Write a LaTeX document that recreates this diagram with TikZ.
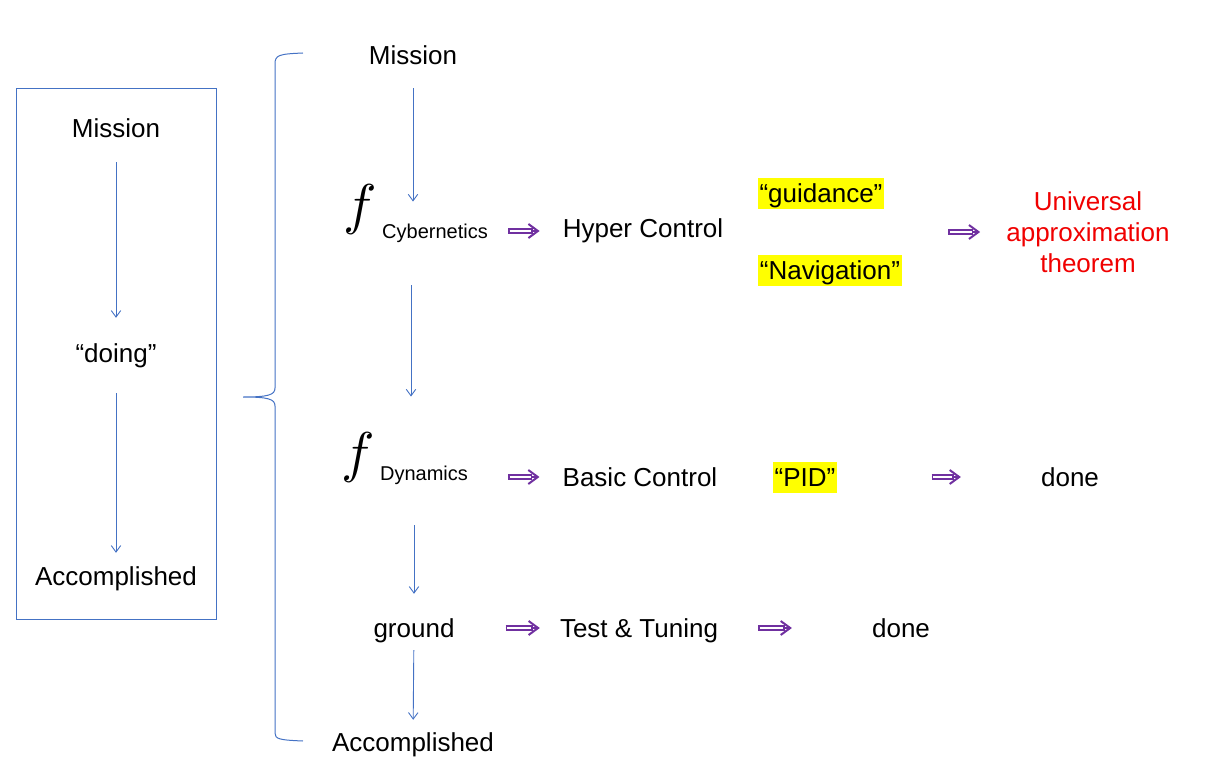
\documentclass[tikz,border=0pt]{standalone}
\usepackage{fontspec}
\setmainfont{Liberation Sans}
\usetikzlibrary{arrows.meta}
\definecolor{bl}{HTML}{4472C4}
\definecolor{pur}{HTML}{7030A0}
\definecolor{hl}{HTML}{FFFF00}
\definecolor{rd}{HTML}{F00000}
\begin{document}
\begin{tikzpicture}[x=1pt,y=-1pt,
  txt/.style={font=\fontsize{26}{31}\selectfont, inner sep=0pt, text height=21.3pt, text depth=2.7pt},
  sub/.style={font=\fontsize{20}{24}\selectfont, inner sep=0pt, text height=16.5pt, text depth=2pt},
  fsym/.style={font=\normalsize, inner sep=0pt, scale=5.6},
  hlbox/.style={txt, fill=hl, inner xsep=2pt, inner ysep=3.5pt},
  barrow/.style={draw=bl, line width=0.9pt, -{Straight Barb[length=6.5pt,width=9.5pt]}},
  parrow/.style 2 args={draw=pur, line width=1.2pt,
     -{Straight Barb[length=9.5pt,width=14pt,line width=2pt]},
     shorten <=#1, shorten >=#2,
     postaction={draw=pur, -, line width=5.8pt, shorten <=#1, shorten >=#2+7pt},
     postaction={draw=white, -, line width=2.6pt, shorten <=#1+1.6pt, shorten >=#2+8.6pt}},
  bracestyle/.style={draw=bl, line width=1pt}]
\useasboundingbox (0,0) rectangle (1210,765);

% left column
\node[draw=bl, line width=0.8pt, minimum width=200pt, minimum height=531pt, inner sep=0pt] (box) at (116,353.5) {};
\node[txt] (lm) at (116,128) {Mission};
\node[txt] (ld) at (116,353) {“doing”};
\node[txt] (la) at (116,576) {Accomplished};
\draw[barrow, shorten <=22pt, shorten >=23pt] (lm) -- (ld);
\draw[barrow, shorten <=28pt, shorten >=11pt] (ld) -- (la);

% brace
\draw[bracestyle] (303,53) .. controls (279,54) and (275,55) .. (275,64) -- (275,388)
  .. controls (275,395) and (268,397) .. (243,397)
  (243,397) .. controls (268,397) and (275,399) .. (275,406) -- (275,733)
  .. controls (275,739) and (279,740) .. (303,741);

% right column
\node[txt] (tm) at (413,55) {Mission};
\node[fsym] (f1) at (360,209) {$f$};
\node[sub] (cyb) at (435,231) {Cybernetics};
\node[txt] (hc) at (643,228) {Hyper Control};
\node[hlbox] (guid) at (821,193) {“guidance”};
\node[hlbox] (nav) at (830,270) {“Navigation”};
\node[txt, text=rd, align=center, text height=, text depth=] (univ) at (1088,232) {Universal\\approximation\\theorem};

\node[fsym] (f2) at (358,457) {$f$};
\node[sub] (dyn) at (424,473) {Dynamics};
\node[txt] (bc) at (640,477) {Basic Control};
\node[hlbox] (pid) at (805,477) {“PID”};
\node[txt] (done1) at (1070,477) {done};

\node[txt] (gr) at (414,628) {ground};
\node[txt] (tt) at (639,628) {Test \& Tuning};
\node[txt] (done2) at (901,628) {done};
\node[txt] (ta) at (413,742) {Accomplished};

% vertical arrows
\draw[barrow, shorten <=21pt, shorten >=20pt] (tm.south) -- (tm.south |- cyb.north);
\draw[barrow, shorten <=45pt, shorten >=67pt] (cyb.south -| 411,0) -- (dyn.north -| 411,0);
\draw[barrow, shorten <=43pt, shorten >=22pt] (dyn.south -| gr.north) -- (gr.north);
\draw[barrow, shorten <=10pt, shorten >=10pt] (gr) -- (ta);

% horizontal arrows
\draw[parrow={20pt}{23pt}] (cyb.east) -- (hc.west |- cyb.east);
\draw[parrow={225pt}{26pt}] (hc.east |- univ.west) -- (univ.west);
\draw[parrow={40pt}{23pt}] (dyn.east |- bc.west) -- (bc.west);
\draw[parrow={94pt}{80pt}] (pid.east) -- (done1.west);
\draw[parrow={51pt}{20pt}] (gr.east) -- (tt.west);
\draw[parrow={40pt}{80pt}] (tt.east) -- (done2.west);
\end{tikzpicture}
\end{document}
